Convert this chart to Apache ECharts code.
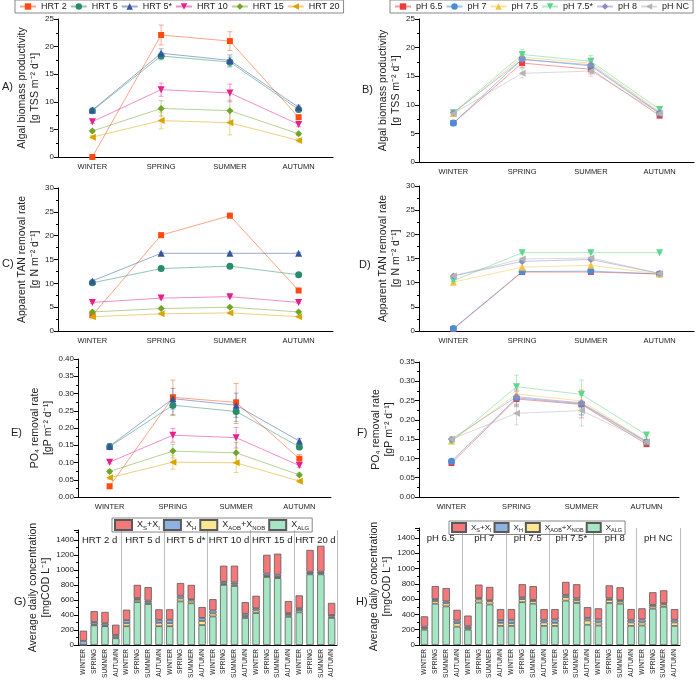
<!DOCTYPE html>
<html><head><meta charset="utf-8">
<script src="https://cdn.jsdelivr.net/npm/echarts@6/dist/echarts.min.js"></script>
<style>html,body{margin:0;padding:0;background:#fff}#c{width:697px;height:681px}</style>
</head><body><div id="c"></div>
<script>
// ---------- DATA ----------
const seasons = ['WINTER','SPRING','SUMMER','AUTUMN'];
const hrtNames = ['HRT 2','HRT 5','HRT 5*','HRT 10','HRT 15','HRT 20'];
const phNames = ['pH 6.5','pH 7','pH 7.5','pH 7.5*','pH 8','pH NC'];

// A) Algal biomass productivity, HRT
const prodHRT = [
  [0, 22.1, 21.0, 7.2],
  [8.4, 18.3, 17.2, 8.6],
  [8.5, 18.8, 17.5, 9.0],
  [6.4, 12.2, 11.6, 5.9],
  [4.7, 8.8, 8.4, 4.2],
  [3.6, 6.6, 6.2, 3.0]
];
const prodHRTErr = [
  [0.1, 1.8, 1.7, 0.4],
  [0.3, 0.7, 0.9, 0.4],
  [0.3, 0.8, 1.0, 0.4],
  [0.3, 1.2, 1.6, 0.4],
  [0.3, 1.4, 1.9, 0.3],
  [0.3, 1.5, 2.2, 0.3]
];
// B) Algal biomass productivity, pH
const prodPH = [
  [6.8, 17.3, 16.2, 8.1],
  [6.8, 18.0, 16.8, 8.5],
  [8.5, 18.3, 17.3, 8.8],
  [8.6, 18.8, 17.6, 9.2],
  [8.6, 17.9, 17.0, 8.6],
  [8.5, 15.5, 15.9, 8.5]
];
const prodPHErr = [
  [0.3, 0.8, 0.8, 0.3],
  [0.3, 0.8, 0.8, 0.3],
  [0.3, 0.8, 0.9, 0.3],
  [0.3, 0.9, 1.0, 0.4],
  [0.3, 0.7, 0.8, 0.3],
  [0.3, 0.8, 0.9, 0.3]
];
// C) Apparent TAN removal rate, HRT
const tanHRT = [
  [3.3, 20.1, 24.2, 8.5],
  [10.1, 13.1, 13.6, 11.8],
  [10.5, 16.3, 16.3, 16.3],
  [6.0, 6.9, 7.2, 6.0],
  [4.0, 4.7, 5.0, 4.0],
  [3.0, 3.6, 3.8, 3.0]
];
const tanHRTErr = [
  [0.3, 0.5, 0.5, 0.3],
  [0.3, 0.3, 0.3, 0.3],
  [0.2, 0.2, 0.2, 0.2],
  [0.2, 0.2, 0.2, 0.2],
  [0.2, 0.2, 0.2, 0.2],
  [0.2, 0.2, 0.2, 0.2]
];
// D) Apparent TAN removal rate, pH
const tanPH = [
  [0.4, 12.2, 12.2, 11.8],
  [0.5, 12.3, 12.4, 11.8],
  [10.1, 13.2, 13.6, 11.8],
  [10.4, 16.2, 16.2, 16.2],
  [11.4, 14.4, 14.8, 11.9],
  [11.4, 14.9, 15.1, 11.9]
];
const tanPHErr = [
  [0.2, 0.2, 0.2, 0.2],
  [0.2, 0.2, 0.2, 0.2],
  [0.2, 0.2, 0.2, 0.2],
  [0.2, 0.2, 0.2, 0.2],
  [0.2, 0.3, 0.3, 0.2],
  [0.2, 0.3, 0.3, 0.2]
];
// E) PO4 removal rate, HRT
const po4HRT = [
  [0.031, 0.289, 0.274, 0.111],
  [0.146, 0.266, 0.248, 0.145],
  [0.147, 0.285, 0.266, 0.162],
  [0.101, 0.179, 0.172, 0.091],
  [0.074, 0.133, 0.128, 0.064],
  [0.056, 0.101, 0.099, 0.046]
];
const po4HRTErr = [
  [0.004, 0.050, 0.055, 0.012],
  [0.008, 0.030, 0.035, 0.008],
  [0.008, 0.030, 0.035, 0.008],
  [0.005, 0.020, 0.030, 0.005],
  [0.005, 0.020, 0.030, 0.005],
  [0.005, 0.020, 0.028, 0.005]
];
// F) PO4 removal rate, pH
const po4PH = [
  [0.088, 0.254, 0.240, 0.137],
  [0.093, 0.257, 0.242, 0.142],
  [0.145, 0.267, 0.249, 0.145],
  [0.144, 0.286, 0.266, 0.161],
  [0.150, 0.260, 0.244, 0.144],
  [0.150, 0.217, 0.224, 0.143]
];
const po4PHErr = [
  [0.004, 0.020, 0.035, 0.005],
  [0.005, 0.020, 0.030, 0.005],
  [0.005, 0.025, 0.030, 0.005],
  [0.006, 0.030, 0.037, 0.006],
  [0.005, 0.020, 0.030, 0.005],
  [0.006, 0.030, 0.040, 0.005]
];

// G) / H) stacked COD fractions (segment heights, mgCOD/L)
const barCats = ['WINTER','SPRING','SUMMER','AUTUMN','WINTER','SPRING','SUMMER','AUTUMN','WINTER','SPRING','SUMMER','AUTUMN',
                 'WINTER','SPRING','SUMMER','AUTUMN','WINTER','SPRING','SUMMER','AUTUMN','WINTER','SPRING','SUMMER','AUTUMN'];
const hrtGroups = ['HRT 2 d','HRT 5 d','HRT 5 d*','HRT 10 d','HRT 15 d','HRT 20 d'];
const phGroups = ['pH 6.5','pH 7','pH 7.5','pH 7.5*','pH 8','pH NC'];
const barNames = ['XS+XI','XH','XAOB+XNOB','XALG'];

const hrtALG = [0,262,250,90, 250,570,545,250, 250,580,555,265, 380,800,785,360, 425,905,890,375, 435,940,940,360];
const hrtAOB = [0,10,10,20, 40,30,20,45, 40,40,35,55, 40,15,20,25, 35,15,15,25, 30,15,15,20];
const hrtXH  = [55,33,30,25, 40,25,25,40, 45,35,20,40, 40,25,25,30, 30,30,30,25, 25,20,20,20];
const hrtXS  = [135,145,150,135, 140,175,180,140, 140,170,190,145, 150,215,225,155, 165,250,280,160, 170,290,345,160];

const phALG = [200,540,505,240, 200,555,530,250, 250,560,540,250, 250,580,550,265, 255,550,540,250, 255,475,500,250];
const phAOB = [20,35,40,45, 20,40,40,40, 35,40,35,45, 40,45,35,55, 40,40,30,45, 40,30,30,45];
const phXH  = [20,25,25,35, 25,20,15,35, 45,25,15,35, 45,30,25,35, 40,20,15,35, 40,20,15,35];
const phXS  = [135,170,175,140, 140,175,175,145, 140,170,180,140, 135,170,185,140, 145,170,170,140, 145,165,170,140];

// ---------- STYLE ----------
const FONT = 'Arial, "Liberation Sans", Helvetica, sans-serif';
const hrtColors = ['#FF4A12','#2A8C6E','#35539E','#E4208C','#6EA62A','#D9A300'];
const phColors  = ['#EE3B3B','#4A8CD6','#F5C542','#5ED68C','#8C8CC4','#B4B4B4'];
const triDown = 'path://M0,0L10,0L5,8.66Z';
const triLeft = 'path://M8.66,0L8.66,10L0,5Z';
const shapes = ['rect','circle','triangle',triDown,'diamond',triLeft];
const barColors = {'XALG':'#A6E6C4','XAOB+XNOB':'#FFE693','XH':'#8EB3E3','XS+XI':'#F4787A'};

const grids = [
  {left:58,  top:19,  width:275, height:138},
  {left:419, top:19,  width:275, height:143},
  {left:58,  top:188, width:275, height:143},
  {left:419, top:186, width:275, height:145},
  {left:78,  top:359, width:253, height:138},
  {left:419, top:362, width:260, height:135},
  {left:78,  top:530, width:259, height:115},
  {left:419, top:528, width:261, height:117}
];

const axLine = {lineStyle:{color:'#000', width:1}};
const axTick = {length:4, lineStyle:{color:'#000'}};
function xCat(gi){
  return {type:'category', gridIndex:gi, data:seasons, axisLine:axLine, axisTick:axTick,
    axisLabel:{fontSize:7.5, color:'#222', margin:6, fontFamily:FONT}, splitLine:{show:false}};
}
function yVal(gi, max, interval, name, gap, dec, showMax){
  return {type:'value', gridIndex:gi, min:0, max:max, interval:interval,
    name:name, nameLocation:'middle', nameRotate:90, nameGap:gap,
    nameTextStyle:{fontSize:10.5, color:'#222', lineHeight:13, fontFamily:FONT},
    axisLine:{show:true, lineStyle:{color:'#000', width:1}}, axisTick:{show:true, length:4, lineStyle:{color:'#000'}},
    minorTick:{show:true, splitNumber:2, length:2, lineStyle:{color:'#000'}},
    axisLabel:{fontSize:8, color:'#222', margin:4, fontFamily:FONT, showMaxLabel: showMax,
      formatter: v => dec ? v.toFixed(dec) : String(v)},
    splitLine:{show:false}};
}
function xBar(gi){
  return {type:'category', gridIndex:gi, data:barCats, axisLine:axLine, axisTick:{length:3, lineStyle:{color:'#000'}},
    axisLabel:{rotate:90, fontSize:6.5, color:'#222', interval:0, margin:4, fontFamily:FONT},
    splitLine:{show:true, interval:(i)=> i>0 && i%4===0, lineStyle:{color:'#bdbdbd', width:1}}};
}
function xGroup(gi, groups){
  return {type:'category', gridIndex:gi, data:groups, position:'top', axisLine:{show:false}, axisTick:{show:false},
    axisLabel:{inside:true, interval:0, fontSize:9.5, color:'#222', margin:5, fontFamily:FONT}, splitLine:{show:false}};
}

const nameProd = 'Algal biomass productivity\n[g TSS m\u207B\u00B2 d\u207B\u00B9]';
const nameTan = 'Apparent TAN removal rate\n[g N m\u207B\u00B2 d\u207B\u00B9]';
const namePo4 = 'PO\u2084 removal rate\n[gP m\u207B\u00B2 d\u207B\u00B9]';
const nameCod = 'Average daily concentration\n[mgCOD L\u207B\u00B9]';

const xAxis = [xCat(0), xCat(1), xCat(2), xCat(3), xCat(4), xCat(5), xBar(6), xBar(7), xGroup(6, hrtGroups), xGroup(7, phGroups)];
const yAxis = [
  yVal(0, 25, 5, nameProd, 14, 0, true),
  yVal(1, 25, 5, nameProd, 14, 0, true),
  yVal(2, 30, 5, nameTan, 12, 0, true),
  yVal(3, 30, 5, nameTan, 14, 0, true),
  yVal(4, 0.4, 0.05, namePo4, 20, 2, true),
  yVal(5, 0.35, 0.05, namePo4, 20, 2, true),
  yVal(6, 1530, 200, nameCod, 20, 0, false),
  yVal(7, 1530, 200, nameCod, 17, 0, false)
];

const series = [];
function errRender(color){
  return function(params, api){
    const x = api.value(0), y = api.value(1), e = api.value(2);
    const hi = api.coord([x, y + e]), lo = api.coord([x, y - e]);
    const w = 2.5;
    const st = {stroke: color, lineWidth: 1, opacity: 0.45};
    return {type:'group', children:[
      {type:'line', shape:{x1:hi[0], y1:hi[1], x2:lo[0], y2:lo[1]}, style:st},
      {type:'line', shape:{x1:hi[0]-w, y1:hi[1], x2:hi[0]+w, y2:hi[1]}, style:st},
      {type:'line', shape:{x1:lo[0]-w, y1:lo[1], x2:lo[0]+w, y2:lo[1]}, style:st}
    ]};
  };
}
function addLines(names, vals, errs, colors, idx){
  names.forEach((n, i) => {
    series.push({type:'custom', name:n + ' err', xAxisIndex:idx, yAxisIndex:idx, silent:true, z:1,
      encode:{x:0, y:1}, data: vals[i].map((v, j) => [j, v, errs[i][j]]), renderItem: errRender(colors[i])});
    series.push({type:'line', name:n, xAxisIndex:idx, yAxisIndex:idx, data: vals[i],
      symbol: shapes[i], symbolSize: i === 0 ? 6 : 7, showAllSymbol:true, z:3,
      itemStyle:{color:colors[i]}, lineStyle:{color:colors[i], width:1, opacity:0.5},
      emphasis:{disabled:true}});
  });
}
addLines(hrtNames, prodHRT, prodHRTErr, hrtColors, 0);
addLines(phNames, prodPH, prodPHErr, phColors, 1);
addLines(hrtNames, tanHRT, tanHRTErr, hrtColors, 2);
addLines(phNames, tanPH, tanPHErr, phColors, 3);
addLines(hrtNames, po4HRT, po4HRTErr, hrtColors, 4);
addLines(phNames, po4PH, po4PHErr, phColors, 5);

function addBars(segs, idx, stack){
  const order = ['XALG','XAOB+XNOB','XH','XS+XI'];
  order.forEach((k, i) => {
    series.push({type:'bar', name:k, stack:stack, xAxisIndex:idx, yAxisIndex:idx, data: segs[i],
      barWidth:'68%', itemStyle:{color: barColors[k], borderColor:'#5a5a5a', borderWidth:0.8},
      emphasis:{disabled:true}});
  });
}
addBars([hrtALG, hrtAOB, hrtXH, hrtXS], 6, 'g');
addBars([phALG, phAOB, phXH, phXS], 7, 'h');

const subFmt = {
  'XS+XI': '{a|X}{b|S}{a|+X}{b|I}',
  'XH': '{a|X}{b|H}',
  'XAOB+XNOB': '{a|X}{b|AOB}{a|+X}{b|NOB}',
  'XALG': '{a|X}{b|ALG}'
};
const richSub = (fa, fb) => ({a:{fontSize:fa, lineHeight:12, color:'#222', fontFamily:FONT},
  b:{fontSize:fb, lineHeight:6, verticalAlign:'bottom', color:'#222', fontFamily:FONT}});

const lineLegend = (data, left) => ({data:data, left:left, top:0, orient:'horizontal', itemWidth:16, itemHeight:8, itemGap:3,
  borderColor:'#888', borderWidth:1, padding:[2,4,2,4], textStyle:{fontSize:9, color:'#222', fontFamily:FONT}});
const barLegend = (left, top, iw, ih, gap, fa, fb) => ({data:barNames, left:left, top:top, icon:'rect', itemWidth:iw, itemHeight:ih, itemGap:gap,
  borderColor:'#888', borderWidth:1, padding:[1,3,1,2], formatter: n => subFmt[n], textStyle:{rich:richSub(fa, fb)}});

const option = {
  animation:false,
  backgroundColor:'#fff',
  textStyle:{fontFamily:FONT},
  grid: grids,
  xAxis: xAxis,
  yAxis: yAxis,
  legend: [lineLegend(hrtNames, 15), lineLegend(phNames, 390), barLegend(112, 518, 17, 10, 3, 9, 6), barLegend(449, 521, 14, 9, 2, 8, 5.5)],
  graphic: [
    {type:'text', left:2,   top:81,  style:{text:'A)', fontSize:11, fill:'#222', fontFamily:FONT}},
    {type:'text', left:362, top:84,  style:{text:'B)', fontSize:11, fill:'#222', fontFamily:FONT}},
    {type:'text', left:2,   top:258, style:{text:'C)', fontSize:11, fill:'#222', fontFamily:FONT}},
    {type:'text', left:359, top:259, style:{text:'D)', fontSize:11, fill:'#222', fontFamily:FONT}},
    {type:'text', left:11,  top:427, style:{text:'E)', fontSize:11, fill:'#222', fontFamily:FONT}},
    {type:'text', left:357, top:427, style:{text:'F)', fontSize:11, fill:'#222', fontFamily:FONT}},
    {type:'text', left:14,  top:596, style:{text:'G)', fontSize:11, fill:'#222', fontFamily:FONT}},
    {type:'text', left:356, top:596, style:{text:'H)', fontSize:11, fill:'#222', fontFamily:FONT}}
  ],
  series: series
};
const chart = echarts.init(document.getElementById('c'));
chart.setOption(option);
</script>
</body></html>
